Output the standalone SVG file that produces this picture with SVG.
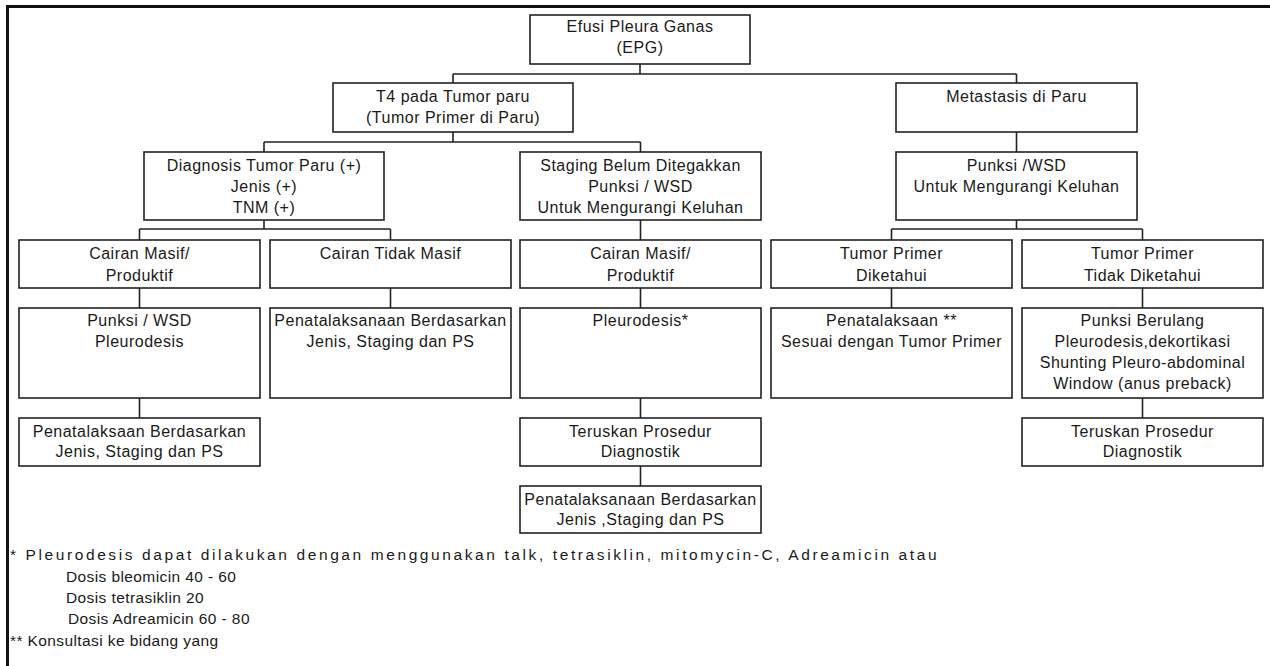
<svg xmlns="http://www.w3.org/2000/svg" width="1270" height="666" viewBox="0 0 1270 666">
<style>
.bx{fill:#fff;stroke:#222;stroke-width:1.6}
.t{font-family:"Liberation Sans",Arial,sans-serif;font-size:16px;letter-spacing:0.5px;fill:#1a1a1a;text-anchor:middle}
.f{font-family:"Liberation Sans",Arial,sans-serif;font-size:15.5px;letter-spacing:0.4px;fill:#1a1a1a}
.c{fill:none;stroke:#222;stroke-width:1.6}
.fr{fill:none;stroke:#111;stroke-width:3}
</style>
<rect width="1270" height="666" fill="#fff"/>
<path class="fr" d="M6 6.5H1270M7.5 6V666"/>
<g id="connectors">
<path class="c" d="M640 64V74M453 74H1016.5M453 74V83M1016.5 74V83"/>
<path class="c" d="M453 132V142M264 142H640.5M264 142V152M640.5 142V152"/>
<path class="c" d="M1016.5 132V152"/>
<path class="c" d="M264 220V229M139.5 229H390.5M139.5 229V240M390.5 229V240"/>
<path class="c" d="M640.5 220V240"/>
<path class="c" d="M1016.5 220V229M891.5 229H1142.5M891.5 229V240M1142.5 229V240"/>
<path class="c" d="M139.5 288V308M390.5 288V308M640.5 288V308M891.5 288V308M1142.5 288V308"/>
<path class="c" d="M139.5 398V418M640.5 398V418M1142.5 398V418"/>
<path class="c" d="M640.5 466V486"/>
</g>
<g id="root"><rect class="bx" x="530" y="15" width="220" height="49"/><text class="t" x="640" y="32">Efusi Pleura Ganas</text><text class="t" x="640" y="53">(EPG)</text></g>
<g id="t4"><rect class="bx" x="333" y="83" width="240" height="49"/><text class="t" x="453" y="102">T4 pada Tumor paru</text><text class="t" x="453" y="123">(Tumor Primer di Paru)</text></g>
<g id="metastasis"><rect class="bx" x="896" y="83" width="241" height="49"/><text class="t" x="1016.5" y="102">Metastasis di Paru</text></g>
<g id="diagnosis"><rect class="bx" x="144" y="152" width="240" height="68"/><text class="t" x="264" y="171">Diagnosis Tumor Paru (+)</text><text class="t" x="264" y="192">Jenis (+)</text><text class="t" x="264" y="213">TNM (+)</text></g>
<g id="staging"><rect class="bx" x="520" y="152" width="241" height="68"/><text class="t" x="640.5" y="171">Staging Belum Ditegakkan</text><text class="t" x="640.5" y="192">Punksi / WSD</text><text class="t" x="640.5" y="213">Untuk Mengurangi Keluhan</text></g>
<g id="punksi-wsd"><rect class="bx" x="896" y="152" width="241" height="68"/><text class="t" x="1016.5" y="171">Punksi /WSD</text><text class="t" x="1016.5" y="192">Untuk Mengurangi Keluhan</text></g>
<g id="a4"><rect class="bx" x="19" y="240" width="241" height="48"/><text class="t" x="139.5" y="259">Cairan Masif/</text><text class="t" x="139.5" y="281">Produktif</text></g>
<g id="b4"><rect class="bx" x="270" y="240" width="241" height="48"/><text class="t" x="390.5" y="259">Cairan Tidak Masif</text></g>
<g id="c4"><rect class="bx" x="520" y="240" width="241" height="48"/><text class="t" x="640.5" y="259">Cairan Masif/</text><text class="t" x="640.5" y="281">Produktif</text></g>
<g id="d4"><rect class="bx" x="771" y="240" width="241" height="48"/><text class="t" x="891.5" y="259">Tumor Primer</text><text class="t" x="891.5" y="281">Diketahui</text></g>
<g id="e4"><rect class="bx" x="1022" y="240" width="241" height="48"/><text class="t" x="1142.5" y="259">Tumor Primer</text><text class="t" x="1142.5" y="281">Tidak Diketahui</text></g>
<g id="a5"><rect class="bx" x="19" y="308" width="241" height="90"/><text class="t" x="139.5" y="326">Punksi / WSD</text><text class="t" x="139.5" y="347">Pleurodesis</text></g>
<g id="b5"><rect class="bx" x="270" y="308" width="241" height="90"/><text class="t" x="390.5" y="326">Penatalaksanaan Berdasarkan</text><text class="t" x="390.5" y="347">Jenis, Staging dan PS</text></g>
<g id="c5"><rect class="bx" x="520" y="308" width="241" height="90"/><text class="t" x="640.5" y="326">Pleurodesis*</text></g>
<g id="d5"><rect class="bx" x="771" y="308" width="241" height="90"/><text class="t" x="891.5" y="326">Penatalaksaan **</text><text class="t" x="891.5" y="347">Sesuai dengan Tumor Primer</text></g>
<g id="e5"><rect class="bx" x="1022" y="308" width="241" height="90"/><text class="t" x="1142.5" y="326">Punksi Berulang</text><text class="t" x="1142.5" y="347">Pleurodesis,dekortikasi</text><text class="t" x="1142.5" y="368">Shunting Pleuro-abdominal</text><text class="t" x="1142.5" y="389">Window (anus preback)</text></g>
<g id="a6"><rect class="bx" x="19" y="418" width="241" height="48"/><text class="t" x="139.5" y="437">Penatalaksaan Berdasarkan</text><text class="t" x="139.5" y="457">Jenis, Staging dan PS</text></g>
<g id="c6"><rect class="bx" x="520" y="418" width="241" height="48"/><text class="t" x="640.5" y="437">Teruskan Prosedur</text><text class="t" x="640.5" y="457">Diagnostik</text></g>
<g id="e6"><rect class="bx" x="1022" y="418" width="241" height="48"/><text class="t" x="1142.5" y="437">Teruskan Prosedur</text><text class="t" x="1142.5" y="457">Diagnostik</text></g>
<g id="c7"><rect class="bx" x="520" y="486" width="241" height="47"/><text class="t" x="640.5" y="505">Penatalaksanaan Berdasarkan</text><text class="t" x="640.5" y="525">Jenis ,Staging dan PS</text></g>
<g id="footnotes">
<text class="f" x="10" y="560" textLength="927" lengthAdjust="spacing">* Pleurodesis dapat dilakukan dengan menggunakan talk, tetrasiklin, mitomycin-C, Adreamicin atau</text>
<text class="f" x="66" y="582">Dosis bleomicin 40 - 60</text>
<text class="f" x="66" y="603">Dosis tetrasiklin 20</text>
<text class="f" x="68" y="624">Dosis Adreamicin 60 - 80</text>
<text class="f" x="10" y="646" letter-spacing="0.9">** Konsultasi ke bidang yang</text>
</g>
</svg>
